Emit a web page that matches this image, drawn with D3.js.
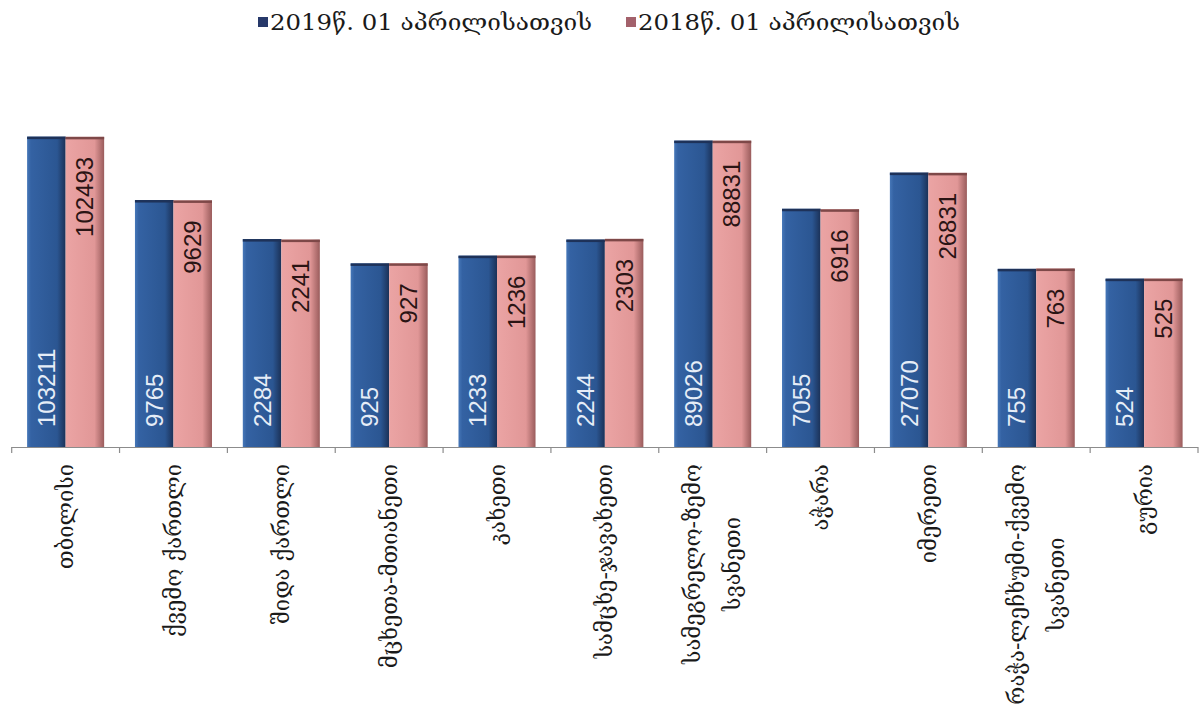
<!DOCTYPE html>
<html><head><meta charset="utf-8">
<script src="https://cdn.jsdelivr.net/npm/d3@7"></script>
<style>body{margin:0;background:#fff} svg{display:block}</style>
</head><body><svg id="c" width="1202" height="713"></svg>
<script>
const categories = ["თბილისი","ქვემო ქართლი","შიდა ქართლი","მცხეთა-მთიანეთი","კახეთი","სამცხე-ჯავახეთი","სამეგრელო-ზემო\nსვანეთი","აჭარა","იმერეთი","რაჭა-ლეჩხუმი-ქვემო\nსვანეთი","გურია"];
const seriesNames = ["2019წ. 01 აპრილისათვის","2018წ. 01 აპრილისათვის"];
const values2019 = [103211, 9765, 2284, 925, 1233, 2244, 89026, 7055, 27070, 755, 524];
const values2018 = [102493, 9629, 2241, 927, 1236, 2303, 88831, 6916, 26831, 763, 525];
const seriesValues = [values2019, values2018];

const svg = d3.select("#c");
const baseY = 447;
const x = d3.scaleBand().domain(categories).range([11.7, 1198]).paddingInner(0).paddingOuter(0);
const xs = d3.scaleBand().domain(seriesNames).range([0, x.bandwidth()]).paddingInner(0).paddingOuter(0.4);
const y = d3.scaleLog().domain([1, 1e6]).range([baseY, baseY - 6*61.9]);

const defs = svg.append("defs");
const gB = defs.append("linearGradient").attr("id","gBlue").attr("x1","0").attr("x2","1").attr("y1","0").attr("y2","0");
gB.append("stop").attr("offset","0%").attr("stop-color","#4677B8");
gB.append("stop").attr("offset","10%").attr("stop-color","#3462A3");
gB.append("stop").attr("offset","78%").attr("stop-color","#2B5692");
gB.append("stop").attr("offset","100%").attr("stop-color","#1B3157");
const gP = defs.append("linearGradient").attr("id","gPink").attr("x1","0").attr("x2","1").attr("y1","0").attr("y2","0");
gP.append("stop").attr("offset","0%").attr("stop-color","#EBA4A4");
gP.append("stop").attr("offset","75%").attr("stop-color","#E19797");
gP.append("stop").attr("offset","100%").attr("stop-color","#9A5C5C");
const fills = ["url(#gBlue)","url(#gPink)"];
const topEdge = ["#1E3259","#7E4848"];

const rows = categories.map((c,i)=>({cat:c, vals:seriesValues.map((s,k)=>({k, name:seriesNames[k], v:s[i]}))}));

const g = svg.append("g");
const grp = g.selectAll("g.grp").data(rows).join("g").attr("class","grp")
  .attr("transform", d=>`translate(${x(d.cat)},0)`);
grp.selectAll("rect.bar").data(d=>d.vals).join("rect").attr("class","bar")
  .attr("x", d=>xs(d.name)).attr("width", xs.bandwidth())
  .attr("y", d=>y(d.v)).attr("height", d=>baseY - y(d.v))
  .attr("fill", d=>fills[d.k]);
grp.selectAll("rect.top").data(d=>d.vals).join("rect").attr("class","top")
  .attr("x", d=>xs(d.name)).attr("width", xs.bandwidth())
  .attr("y", d=>y(d.v)).attr("height", 2.5)
  .attr("fill", d=>topEdge[d.k]);

// value labels
grp.selectAll("text.val").data(d=>d.vals).join("text").attr("class","val")
  .attr("transform", d=>{
    const cx = xs(d.name) + xs.bandwidth()/2;
    const yy = d.k===0 ? baseY - 20 : y(d.v) + 20;
    return `translate(${cx},${yy}) rotate(-90)`;
  })
  .attr("text-anchor", d=>d.k===0 ? "start" : "end")
  .attr("dominant-baseline","central")
  .attr("font-family","'Liberation Sans', Arial, sans-serif")
  .attr("font-size", 24)
  .attr("fill", d=>d.k===0 ? "#E6EDF7" : "#2A1414")
  .text(d=>d.v);

// axis
const ax = svg.append("g");
ax.append("line").attr("x1", x.range()[0]).attr("x2", x.range()[1]).attr("y1", baseY+0.5).attr("y2", baseY+0.5)
  .attr("stroke","#8C8C8C").attr("stroke-width",1.2);
const bounds = categories.map(c=>x(c)).concat([x.range()[1]]);
ax.selectAll("line.tick").data(bounds).join("line").attr("class","tick")
  .attr("x1", d=>d).attr("x2", d=>d).attr("y1", baseY).attr("y2", baseY+6)
  .attr("stroke","#8C8C8C").attr("stroke-width",1.2);

// category labels
const labTop = 464, lineGap = 40, labFont = 22;
categories.forEach(c=>{
  const lines = c.split("\n");
  const cx = x(c) + x.bandwidth()/2;
  const n = lines.length;
  const t0 = ax.append("text").attr("font-family","'DejaVu Serif', serif").attr("font-size",labFont).attr("fill","#1a1a1a")
    .attr("text-anchor","end").attr("dominant-baseline","central")
    .attr("transform",`translate(${cx - (n-1)*lineGap/2},${labTop}) rotate(-90)`).text(lines[0]);
  const L1 = t0.node().getComputedTextLength();
  for (let i=1;i<n;i++){
    ax.append("text").attr("font-family","'DejaVu Serif', serif").attr("font-size",labFont).attr("fill","#1a1a1a")
      .attr("text-anchor","middle").attr("dominant-baseline","central")
      .attr("transform",`translate(${cx - (n-1)*lineGap/2 + i*lineGap},${labTop + L1/2}) rotate(-90)`).text(lines[i]);
  }
});

// legend
const legCols = ["#27396A","#A3616B"];
const legX = [258, 626];
seriesNames.forEach((s,i)=>{
  const lg = svg.append("g").attr("transform",`translate(${legX[i]},22)`);
  lg.append("rect").attr("x",0).attr("y",-5).attr("width",10).attr("height",10).attr("fill",legCols[i]);
  lg.append("text").attr("x",12).attr("y",0).attr("dominant-baseline","central")
    .attr("font-family","'DejaVu Serif', serif").attr("font-size",23).attr("fill","#1a1a1a")
    .attr("textLength",322).attr("lengthAdjust","spacingAndGlyphs").text(s);
});
</script></body></html>
